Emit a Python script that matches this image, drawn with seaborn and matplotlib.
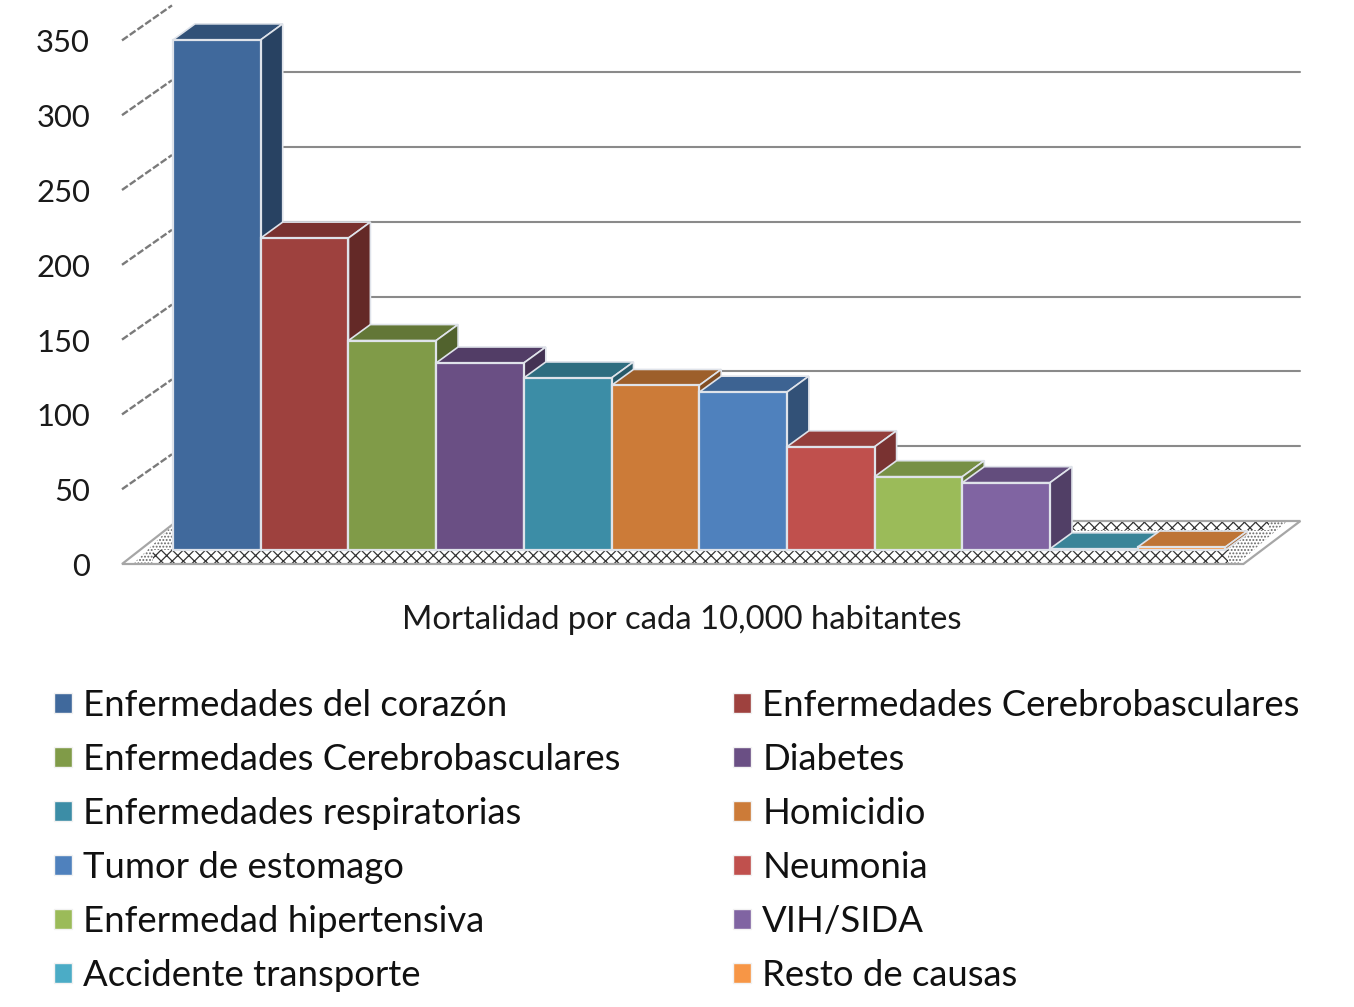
import seaborn as sns
import pandas as pd
import matplotlib.pyplot as plt
from matplotlib.patches import Polygon, Patch
from matplotlib.colors import to_rgb

causas = ['Enfermedades del corazón', 'Enfermedades Cerebrobasculares',
          'Enfermedades Cerebrobasculares', 'Diabetes',
          'Enfermedades respiratorias', 'Homicidio',
          'Tumor de estomago', 'Neumonia',
          'Enfermedad hipertensiva', 'VIH/SIDA',
          'Accidente transporte', 'Resto de causas']
valores = [341, 208.5, 140, 125, 115, 110, 105.5, 69, 49, 45, 0.8, 2]
colores = ['#40699C', '#9E413E', '#809B48', '#6A4F84', '#3C8DA6', '#CC7B38',
           '#4F81BD', '#C0504D', '#9BBB59', '#8064A2', '#4BACC6', '#F79646']
ticks = [0, 50, 100, 150, 200, 250, 300, 350]

# pixeles por categoria y por unidad, para pasar el falso 3D a datos
PX_X = 87.7
PX_Y = 1.496

sns.set_style('white')
plt.rcParams['font.family'] = ['Lato', 'DejaVu Sans']
plt.rcParams['hatch.linewidth'] = 0.9

fig = plt.figure(figsize=(13.54, 10.07), dpi=100)
ax = fig.add_axes([173 / 1354, (1007 - 550) / 1007, 12 * PX_X / 1354, 510 / 1007])

df = pd.DataFrame({'orden': range(len(valores)), 'valor': valores})
sns.barplot(data=df, x='orden', y='valor', hue='orden', palette=colores, width=1,
            dodge=False, legend=False, saturation=1, ax=ax)
ax.set_xlim(-0.5, 11.5)
ax.set_ylim(0, 510 / PX_Y)
ax.axis('off')
barras = sorted(ax.patches, key=lambda b: b.get_x())


def dx(px):
    return px / PX_X


def dy(px):
    return px / PX_Y


def sombra(color, f):
    return tuple(c * f for c in to_rgb(color))


def poly(puntos, **kw):
    p = Polygon(puntos, closed=True, clip_on=False, **kw)
    ax.add_patch(p)
    return p


x0 = -0.5
x1 = 11.5

# piso
y_frente = -dy(14)
y_fondo = dy(29)
poly([(x0 - dx(40), y_frente), (x1 + dx(12), y_frente), (x1 + dx(62), y_fondo), (x0 + dx(4), y_fondo)],
     facecolor='white', edgecolor='#666666', hatch='.....', lw=0, zorder=1)
poly([(x0 - dx(20), y_frente), (x1 + dx(3), y_frente), (x1 + dx(3), 0), (x0 - dx(20), 0)],
     facecolor='white', edgecolor='#333333', hatch='xxx', lw=0, zorder=1.1)
poly([(9.75, y_fondo - dy(9)), (x1 + dx(44), y_fondo - dy(9)), (x1 + dx(44), y_fondo), (9.75, y_fondo)],
     facecolor='white', edgecolor='#333333', hatch='xxx', lw=0, zorder=1.1)
poly([(x0 - dx(51), y_frente), (x1 + dx(18), y_frente), (x1 + dx(75), y_fondo), (x0 + dx(4), y_fondo)],
     fill=False, edgecolor='#a6a6a6', lw=1.6, zorder=1.2)

# lineas de la pared del fondo
for t in ticks[1:7]:
    ax.plot([x0 + dx(4), x1 + dx(75)], [t + y_fondo, t + y_fondo], color='#8a8a8a', lw=1.5,
            zorder=1.5, clip_on=False)

# marcas laterales y etiquetas
for t in ticks:
    if t > 0:
        ax.plot([x0 - dx(51), x0 - dx(1)], [t + y_frente, t + y_frente + dy(35)], color='#7a7a7a', lw=1.7,
                ls=(0, (3, 1)), zorder=1.5, clip_on=False)
    ax.text(x0 - dx(83), t + y_frente - dy(3), str(t), ha='right', va='center', fontsize=22.3,
            color='#1a1a1a', clip_on=False)

# caras superior y lateral de cada barra
borde = '#dfe3ea'
prof_x = dx(22)
prof_y = dy(16)
for i, bar in enumerate(barras):
    a = bar.get_x()
    b = a + bar.get_width()
    h = bar.get_height()
    z = 3 + i
    bar.set_edgecolor(borde)
    bar.set_linewidth(1.6)
    bar.set_zorder(z + 0.5)
    bar.set_clip_on(False)
    poly([(a, h), (b, h), (b + prof_x, h + prof_y), (a + prof_x, h + prof_y)],
         facecolor=sombra(colores[i], 0.77), edgecolor=borde, lw=1.2, zorder=z)
    poly([(b, 0), (b + prof_x, prof_y), (b + prof_x, h + prof_y), (b, h)],
         facecolor=sombra(colores[i], 0.63), edgecolor=borde, lw=1.2, zorder=z)

fig.text(682 / 1354, 1 - 620 / 1007, 'Mortalidad por cada 10,000 habitantes', ha='center', va='center',
         fontsize=23.6, color='#1a1a1a')

# leyenda en dos columnas, orden por filas
manijas = [Patch(facecolor=c, edgecolor='#f2f2f2', label=n) for c, n in zip(colores, causas)]
for k, xpos in enumerate([54, 733]):
    fig.legend(handles=manijas[k::2], loc='upper left', bbox_to_anchor=(xpos / 1354, 1 - 689 / 1007),
               frameon=False, borderpad=0, borderaxespad=0, fontsize=26.3, labelspacing=0.575,
               handlelength=0.5, handleheight=0.5, handletextpad=0.3, labelcolor='#111111')

fig.savefig('out.png', dpi=100)
